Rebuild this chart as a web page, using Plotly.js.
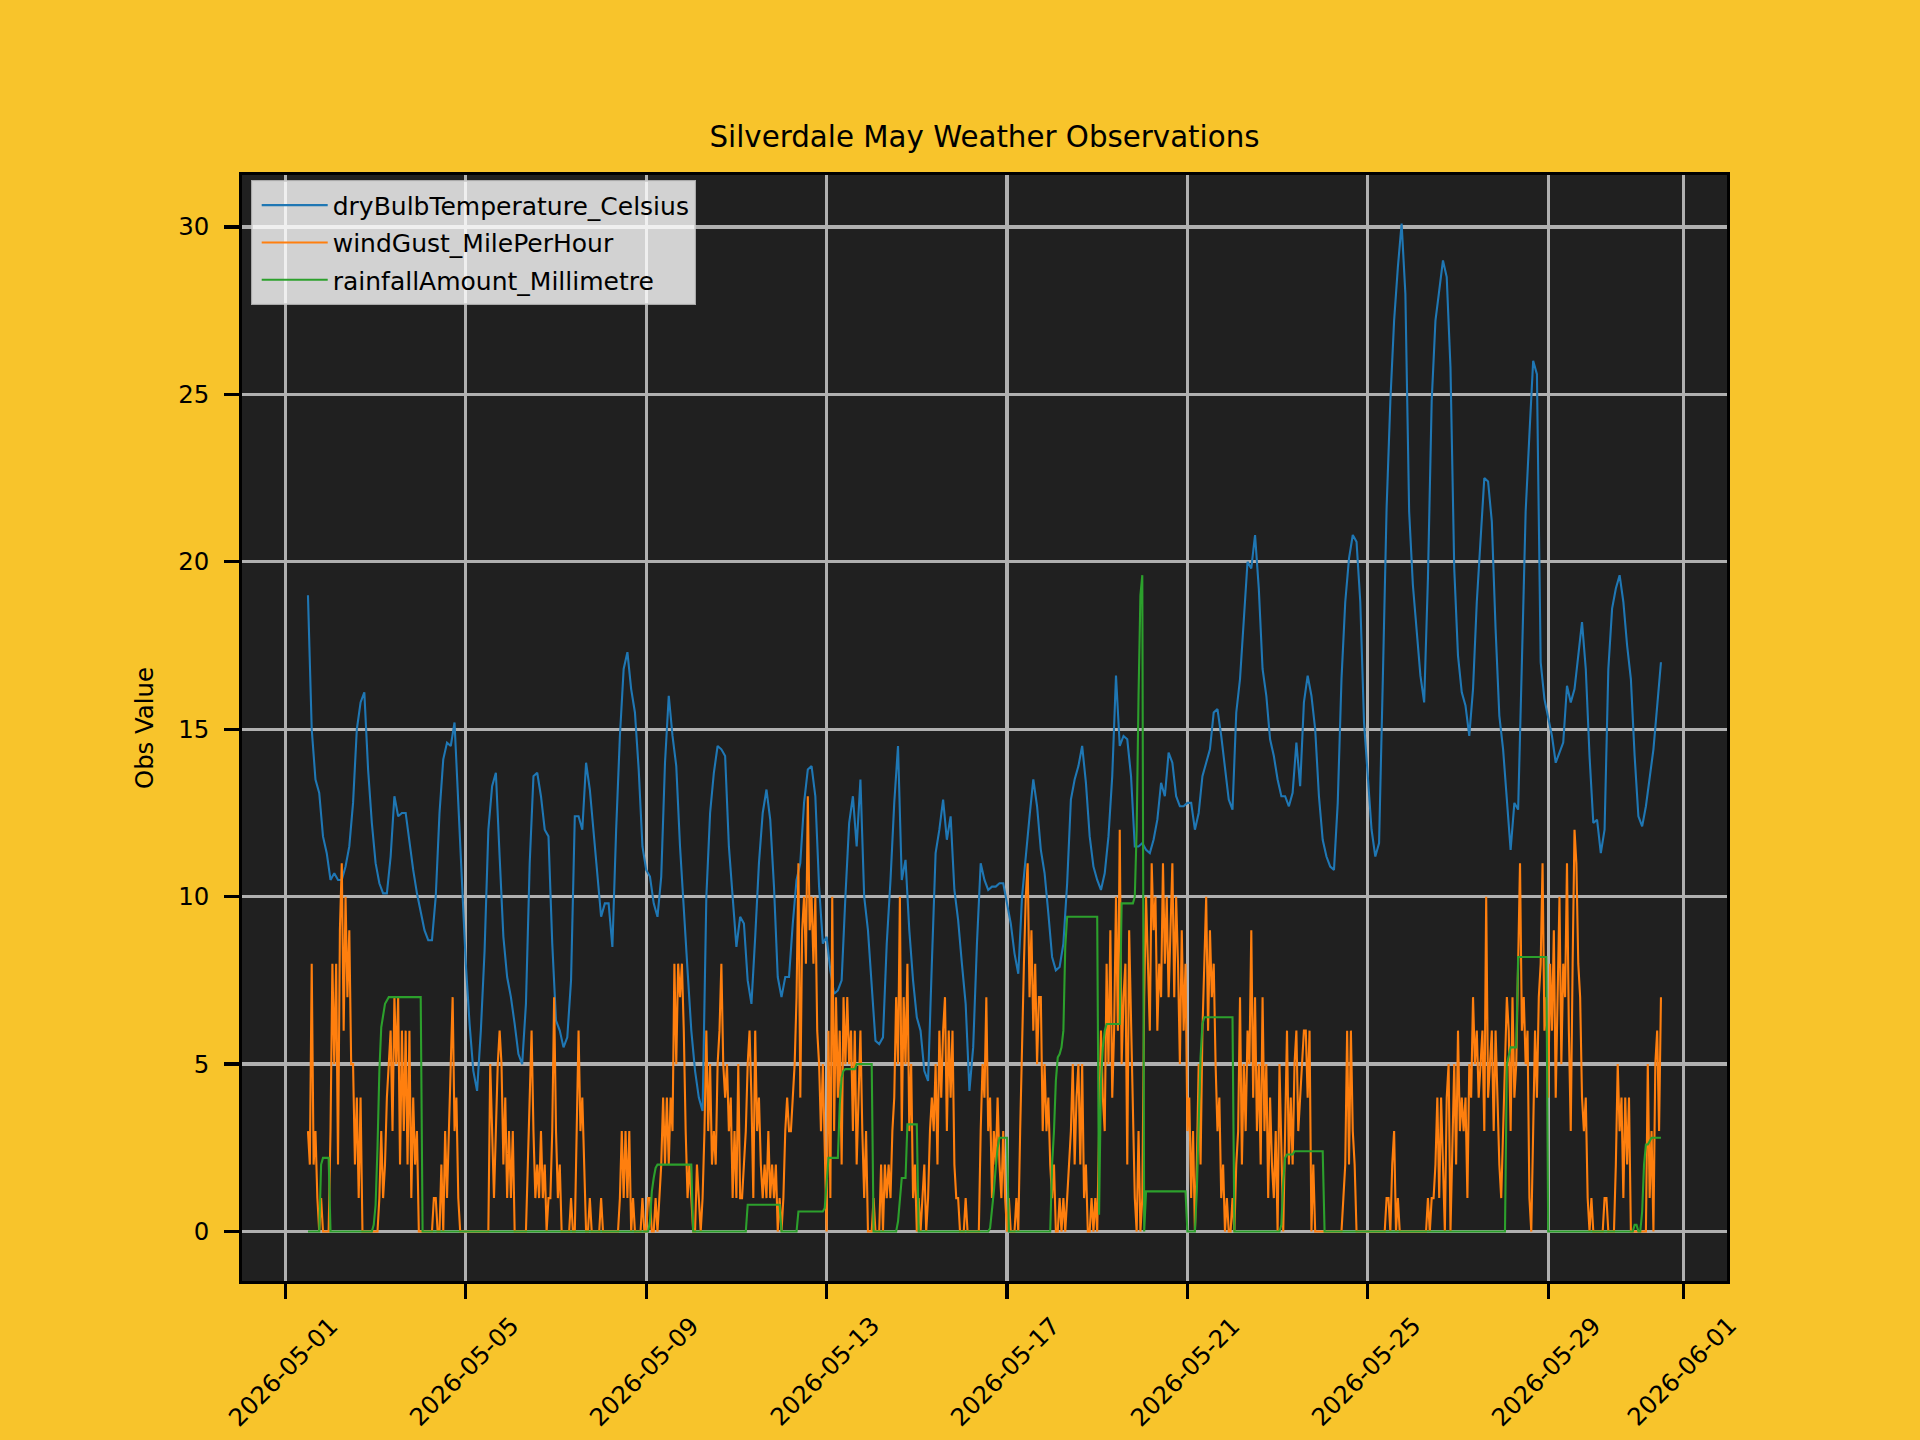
<!DOCTYPE html>
<html>
<head>
<meta charset="utf-8">
<script src="https://cdn.plot.ly/plotly-3.0.1.min.js"></script>
<style>
html,body{margin:0;padding:0;background:#F8C42B;}
#chart{width:1920px;height:1440px;}
</style>
</head>
<body>
<div id="chart"></div>
<script>
// ---------------- data ----------------
const chartTitle = 'Silverdale May Weather Observations';
const yAxisTitle = 'Obs Value';
const seriesNames = ['dryBulbTemperature_Celsius', 'windGust_MilePerHour', 'rainfallAmount_Millimetre'];
const seriesColors = ['#1f77b4', '#ff7f0e', '#2ca02c'];
const seriesStart = '2026-05-01T12:00:00Z';

const tickDates = ['2026-05-01', '2026-05-05', '2026-05-09', '2026-05-13', '2026-05-17',
                   '2026-05-21', '2026-05-25', '2026-05-29', '2026-06-01'];
const tickLabels = ['2026-05-01', '2026-05-05', '2026-05-09', '2026-05-13', '2026-05-17',
                    '2026-05-21', '2026-05-25', '2026-05-29', '2026-06-01'];

// dry bulb temperature, every 2 hours from 2026-05-01 12:00
const tempStepHours = 2;
const tempC = [
  19.0, 15.0, 13.5, 13.1, 11.8, 11.3, 10.5, 10.7, 10.5, 10.5, 10.9, 11.5,
  12.8, 15.0, 15.8, 16.1, 13.8, 12.2, 11.0, 10.4, 10.1, 10.1, 11.2, 13.0,
  12.4, 12.5, 12.5, 11.6, 10.8, 10.1, 9.6, 9.0, 8.7, 8.7, 10.0, 12.5,
  14.1, 14.6, 14.5, 15.2, 12.8, 10.4, 8.0, 6.2, 4.8, 4.2, 6.0, 8.4,
  12.0, 13.3, 13.7, 11.2, 8.8, 7.6, 7.0, 6.2, 5.3, 5.0, 6.8, 11.0,
  13.6, 13.7, 13.0, 12.0, 11.8, 8.6, 6.3, 6.0, 5.5, 5.8, 7.5, 12.4,
  12.4, 12.0, 14.0, 13.2, 12.0, 10.7, 9.4, 9.8, 9.8, 8.5, 12.0, 14.8,
  16.8, 17.3, 16.2, 15.5, 13.8, 11.5, 10.8, 10.6, 9.8, 9.4, 10.6, 14.0,
  16.0, 14.8, 13.9, 11.5, 9.5, 7.8, 6.0, 4.8, 4.0, 3.6, 10.0, 12.5,
  13.7, 14.5, 14.4, 14.2, 11.5, 10.0, 8.5, 9.4, 9.2, 7.5, 6.8, 8.8,
  11.0, 12.5, 13.2, 12.3, 10.3, 7.6, 7.0, 7.6, 7.6, 9.2, 10.5, 11.0,
  12.8, 13.8, 13.9, 13.0, 10.3, 8.6, 8.8, 7.8, 7.1, 7.2, 7.5, 10.0,
  12.2, 13.0, 11.5, 13.5, 10.0, 9.0, 7.4, 5.7, 5.6, 5.8, 8.6, 10.5,
  12.8, 14.5, 10.5, 11.1, 9.0, 7.5, 6.4, 6.0, 4.8, 4.5, 8.0, 11.3,
  12.0, 12.9, 11.7, 12.4, 10.2, 9.3, 8.0, 6.8, 4.2, 5.5, 8.6, 11.0,
  10.5, 10.2, 10.3, 10.3, 10.4, 10.4, 9.8, 9.2, 8.3, 7.7, 10.0, 11.3,
  12.4, 13.5, 12.7, 11.4, 10.7, 9.5, 8.2, 7.8, 7.9, 8.6, 10.4, 12.9,
  13.5, 13.9, 14.5, 13.4, 11.8, 10.9, 10.5, 10.2, 10.7, 11.8, 13.6, 16.6,
  14.5, 14.8, 14.7, 13.6, 11.5, 11.5, 11.6, 11.4, 11.3, 11.7, 12.3, 13.4,
  13.0, 14.3, 14.0, 13.0, 12.7, 12.7, 12.8, 12.8, 12.0, 12.5, 13.6, 14.0,
  14.4, 15.5, 15.6, 14.8, 13.9, 12.9, 12.6, 15.5, 16.5, 18.3, 20.0, 19.8,
  20.8, 19.2, 16.8, 16.0, 14.7, 14.2, 13.5, 13.0, 13.0, 12.7, 13.1, 14.6,
  13.3, 15.8, 16.6, 16.0, 15.0, 13.0, 11.7, 11.2, 10.9, 10.8, 12.8, 16.5,
  18.8, 20.1, 20.8, 20.6, 18.8, 15.2, 13.6, 12.0, 11.2, 11.6, 16.5, 21.6,
  24.8, 27.2, 28.8, 30.1, 28.0, 21.5, 19.3, 17.8, 16.6, 15.8, 19.5, 24.8,
  27.2, 28.1, 29.0, 28.5, 25.8, 19.8, 17.2, 16.1, 15.7, 14.8, 16.2, 18.8,
  20.5, 22.5, 22.4, 21.2, 18.0, 15.4, 14.4, 13.0, 11.4, 12.8, 12.6, 17.0,
  21.5, 23.8, 26.0, 25.6, 17.0, 15.9, 15.3, 14.8, 14.0, 14.3, 14.6, 16.3,
  15.8, 16.2, 17.3, 18.2, 16.8, 14.2, 12.2, 12.3, 11.3, 12.0, 16.8, 18.6,
  19.2, 19.6, 18.8, 17.5, 16.5, 14.2, 12.4, 12.1, 12.7, 13.5, 14.4, 15.7,
  17.0
];

// wind gust, hourly from 2026-05-01 12:00
const windStepHours = 1;
const windGustMph = [
  3,2,8,2,3,1,0,1,0,0,0,0,
  3,8,5,8,2,9,11,6,10,7,9,5,
  5,2,4,1,4,0,0,0,0,0,0,0,
  0,0,1,3,1,2,4,5,6,3,7,5,
  7,2,6,3,6,2,6,1,4,2,3,0,
  0,0,0,0,0,0,0,1,1,0,0,2,
  0,3,1,3,5,7,3,4,1,0,0,0,
  0,0,0,0,0,0,0,0,0,0,0,0,
  0,5,3,1,3,5,6,5,2,4,1,3,
  1,3,0,0,0,0,0,0,0,2,4,6,
  3,1,2,1,3,1,2,0,1,1,3,7,
  3,1,2,0,0,0,0,0,1,0,0,3,
  6,3,4,2,0,0,1,0,0,0,0,0,
  1,0,0,0,0,0,0,0,0,0,1,3,
  1,3,1,3,0,1,0,0,0,0,1,0,
  0,1,1,0,0,1,0,1,2,4,2,4,
  2,4,3,8,5,8,7,8,6,3,1,2,
  1,0,0,2,1,0,1,3,6,3,5,2,
  3,2,5,6,8,5,4,5,3,4,1,3,
  1,5,1,1,2,3,5,6,4,1,6,3,
  4,2,1,2,1,3,1,2,1,2,0,1,
  0,1,3,4,3,3,4,5,7,11,4,9,
  10,8,13,9,10,8,10,6,5,3,5,2,
  0,6,1,10,3,7,4,6,2,7,5,7,
  5,6,3,6,2,4,6,3,1,3,0,0,
  0,1,0,0,0,2,0,2,1,2,1,3,
  4,7,5,10,3,7,5,8,3,5,1,2,
  0,1,0,1,2,0,1,3,4,3,5,2,
  6,4,6,7,3,6,4,6,2,1,1,0,
  0,0,1,0,0,0,0,0,0,0,3,5,
  4,7,3,4,1,3,2,4,2,1,3,1,
  0,1,0,0,0,1,0,3,6,8,10,11,
  7,9,6,8,5,7,7,3,5,3,4,2,
  1,2,0,0,1,0,1,0,1,2,3,5,
  2,4,5,2,5,1,2,0,0,1,0,1,
  0,3,6,4,3,8,5,9,4,6,10,6,
  12,5,7,8,2,9,6,3,1,0,3,0,
  1,7,10,8,6,11,9,10,6,8,7,11,
  8,10,7,9,11,7,10,8,5,9,6,8,
  3,4,1,3,0,2,5,2,6,8,10,6,
  9,7,8,5,3,4,1,2,0,1,0,0,
  1,0,2,3,7,2,5,3,6,5,9,4,
  7,3,5,2,7,3,5,1,4,2,1,3,
  0,5,2,0,3,6,2,4,2,5,6,3,
  4,5,6,6,4,6,0,2,0,0,0,0,
  0,0,0,0,0,0,0,0,0,0,0,1,
  2,6,2,6,3,2,0,0,0,0,0,0,
  0,0,0,0,0,0,0,0,0,0,1,1,
  0,2,3,0,1,0,0,0,0,0,0,0,
  0,0,0,0,0,0,0,0,1,0,1,1,
  2,4,1,4,2,0,4,5,0,3,5,2,
  6,3,4,3,4,1,5,4,7,5,6,4,
  5,6,3,10,4,5,6,3,6,4,2,1,
  3,5,7,6,3,7,4,5,8,11,6,7,
  5,6,1,0,3,6,4,7,8,11,6,7,
  4,8,6,9,4,7,10,5,8,7,11,6,
  3,8,12,11,8,7,4,3,4,1,0,1,
  0,0,0,0,0,0,1,1,0,0,0,0,
  2,5,3,4,1,4,2,4,0,0,0,0,
  0,0,0,0,0,5,1,3,0,5,6,3,
  7
];

// rainfall amount, hourly from 2026-05-01 12:00
const rainStepHours = 1;
const rainfallMm = [
  0,0,0,0,0,0,0,2,2.2,2.2,2.2,2.2,
  0,0,0,0,0,0,0,0,0,0,0,0,
  0,0,0,0,0,0,0,0,0,0,0,0.2,
  0.8,2.5,4.8,6.1,6.5,6.8,6.9,7,7,7,7,7,
  7,7,7,7,7,7,7,7,7,7,7,7,
  7,0,0,0,0,0,0,0,0,0,0,0,
  0,0,0,0,0,0,0,0,0,0,0,0,
  0,0,0,0,0,0,0,0,0,0,0,0,
  0,0,0,0,0,0,0,0,0,0,0,0,
  0,0,0,0,0,0,0,0,0,0,0,0,
  0,0,0,0,0,0,0,0,0,0,0,0,
  0,0,0,0,0,0,0,0,0,0,0,0,
  0,0,0,0,0,0,0,0,0,0,0,0,
  0,0,0,0,0,0,0,0,0,0,0,0,
  0,0,0,0,0,0,0,0,0,0,0,0,
  0,0,0.3,1.2,1.6,1.9,2,2,2,2,2,2,
  2,2,2,2,2,2,2,2,2,2,2,2,
  2,0,0,0,0,0,0,0,0,0,0,0,
  0,0,0,0,0,0,0,0,0,0,0,0,
  0,0,0,0,0,0,0.8,0.8,0.8,0.8,0.8,0.8,
  0.8,0.8,0.8,0.8,0.8,0.8,0.8,0.8,0.8,0.8,0.8,0.8,
  0,0,0,0,0,0,0,0,0,0.6,0.6,0.6,
  0.6,0.6,0.6,0.6,0.6,0.6,0.6,0.6,0.6,0.6,0.6,0.7,
  1.5,2.2,2.2,2.2,2.2,2.2,2.2,3.8,4.6,4.8,4.85,4.85,
  4.85,4.85,4.85,4.85,5,5,5,5,5,5,5,5,
  5,0,0,0,0,0,0,0,0,0,0,0,
  0,0,0.3,0.9,1.6,1.6,1.6,3.2,3.2,3.2,3.2,3.2,
  3.2,0,0,0,0,0,0,0,0,0,0,0,
  0,0,0,0,0,0,0,0,0,0,0,0,
  0,0,0,0,0,0,0,0,0,0,0,0,
  0,0,0,0.1,0.6,1.2,1.9,2.5,2.8,2.8,2.8,2.8,
  2.8,0,0,0,0,0,0,0,0,0,0,0,
  0,0,0,0,0,0,0,0,0,0,0,0,
  2,3,4.5,5.2,5.3,5.5,6,8.5,9.4,9.4,9.4,9.4,
  9.4,9.4,9.4,9.4,9.4,9.4,9.4,9.4,9.4,9.4,9.4,9.4,
  9.4,0.5,4.5,5.5,6,6.2,6.2,6.2,6.2,6.2,6.2,6.2,
  6.2,9.8,9.8,9.8,9.8,9.8,9.8,9.8,10,12,16,19,
  19.6,0,1.2,1.2,1.2,1.2,1.2,1.2,1.2,1.2,1.2,1.2,
  1.2,1.2,1.2,1.2,1.2,1.2,1.2,1.2,1.2,1.2,1.2,1.2,
  0,0,0,0,0,1.2,3.5,5.2,6.2,6.4,6.4,6.4,
  6.4,6.4,6.4,6.4,6.4,6.4,6.4,6.4,6.4,6.4,6.4,6.4,
  6.4,0,0,0,0,0,0,0,0,0,0,0,
  0,0,0,0,0,0,0,0,0,0,0,0,
  0,0,0.2,1.5,2.2,2.3,2.3,2.3,2.3,2.4,2.4,2.4,
  2.4,2.4,2.4,2.4,2.4,2.4,2.4,2.4,2.4,2.4,2.4,2.4,
  2.4,0,0,0,0,0,0,0,0,0,0,0,
  0,0,0,0,0,0,0,0,0,0,0,0,
  0,0,0,0,0,0,0,0,0,0,0,0,
  0,0,0,0,0,0,0,0,0,0,0,0,
  0,0,0,0,0,0,0,0,0,0,0,0,
  0,0,0,0,0,0,0,0,0,0,0,0,
  0,0,0,0,0,0,0,0,0,0,0,0,
  0,0,0,0,0,0,0,0,0,0,0,0,
  0,0,5,5.3,5.5,5.5,5.5,5.5,8.2,8.2,8.2,8.2,
  8.2,8.2,8.2,8.2,8.2,8.2,8.2,8.2,8.2,8.2,8.2,8.2,
  0,0,0,0,0,0,0,0,0,0,0,0,
  0,0,0,0,0,0,0,0,0,0,0,0,
  0,0,0,0,0,0,0,0,0,0,0,0,
  0,0,0,0,0,0,0,0,0,0,0.2,0.2,
  0,0,0.6,2,2.6,2.6,2.7,2.8,2.8,2.8,2.8,2.8,
  2.8
];

// ---------------- build ----------------
function timeAxis(n, stepHours) {
  const t0 = Date.parse(seriesStart);
  const out = [];
  for (let i = 0; i < n; i++) {
    out.push(new Date(t0 + i * stepHours * 3600000).toISOString().slice(0, 16).replace('T', ' '));
  }
  return out;
}

const FONT = 'DejaVu Sans, Verdana, sans-serif';
const LINE_W = 2.1;
const TICK_FONT = 24.4;

const traces = [
  {x: timeAxis(tempC.length, tempStepHours), y: tempC, name: seriesNames[0], color: seriesColors[0]},
  {x: timeAxis(windGustMph.length, windStepHours), y: windGustMph, name: seriesNames[1], color: seriesColors[1]},
  {x: timeAxis(rainfallMm.length, rainStepHours), y: rainfallMm, name: seriesNames[2], color: seriesColors[2]}
].map((s, i) => ({
  type: 'scatter', mode: 'lines', x: s.x, y: s.y, name: s.name,
  legendgroup: 'g' + i,
  line: {color: s.color, width: LINE_W}
}));

const tickAnnotations = tickDates.map((d, i) => ({
  x: d, xref: 'x', y: 0, yref: 'paper',
  xanchor: 'center', yanchor: 'top', yshift: -27, xshift: -2,
  text: tickLabels[i], textangle: -45, showarrow: false,
  font: {family: FONT, size: TICK_FONT, color: '#000'}
}));

const layout = {
  width: 1920, height: 1440,
  paper_bgcolor: '#F8C42B',
  plot_bgcolor: '#202020',
  margin: {l: 242, r: 193.3, t: 175.3, b: 159.3, pad: 0},
  font: {family: FONT, color: '#000', size: TICK_FONT},
  title: {
    text: chartTitle,
    font: {family: FONT, size: 29.3, color: '#000'},
    x: 0.5, xref: 'paper', xanchor: 'center',
    y: 1 - 137 / 1440, yref: 'container', yanchor: 'middle'
  },
  xaxis: {
    type: 'date',
    range: ['2026-04-30 00:54', '2026-06-01 23:09'],
    tickmode: 'array', tickvals: tickDates, showticklabels: false,
    ticks: 'outside', ticklen: 14.6, tickwidth: 3.3, tickcolor: '#000',
    showgrid: true, gridcolor: '#B0B0B0', gridwidth: 3.3,
    showline: true, linecolor: '#000', linewidth: 3.3, mirror: true,
    zeroline: false, automargin: false
  },
  yaxis: {
    range: [-1.476, 31.55],
    tickmode: 'linear', tick0: 0, dtick: 5,
    ticks: 'outside', ticklen: 14.6, tickwidth: 3.3, tickcolor: '#000',
    tickfont: {family: FONT, size: TICK_FONT, color: '#000'},
    ticklabelstandoff: 10,
    showgrid: true, gridcolor: '#B0B0B0', gridwidth: 3.3,
    showline: true, linecolor: '#000', linewidth: 3.3, mirror: true,
    zeroline: false, automargin: false,
    title: {text: yAxisTitle, font: {family: FONT, size: 24.4, color: '#000'}, standoff: 18}
  },
  showlegend: true,
  legend: {
    x: 9 / 1484.7, y: 1 - 5.4 / 1105.4, xanchor: 'left', yanchor: 'top',
    bgcolor: 'rgba(255,255,255,0.8)', bordercolor: 'rgba(204,204,204,0.8)', borderwidth: 2,
    font: {family: FONT, size: 25, color: '#000'},
    itemwidth: 66, indentation: 3.7, tracegroupgap: 1.8, traceorder: 'grouped'
  },
  annotations: tickAnnotations
};

Plotly.newPlot('chart', traces, layout, {staticPlot: true, displayModeBar: false});
</script>
</body>
</html>
